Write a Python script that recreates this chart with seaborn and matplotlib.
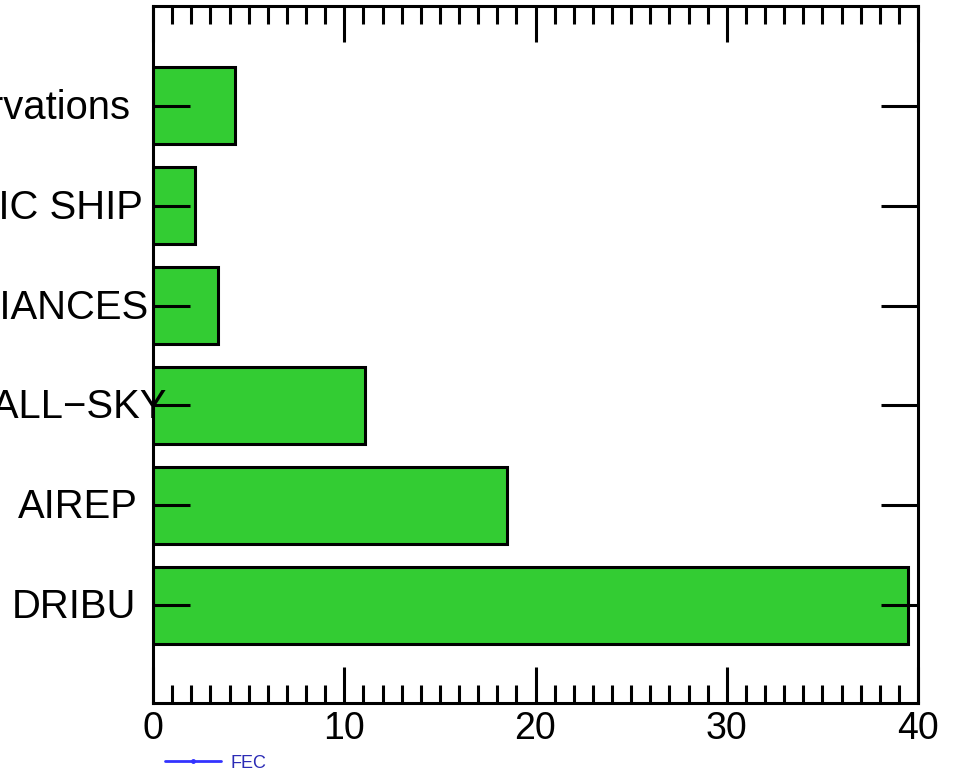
import matplotlib
matplotlib.use("Agg")
import matplotlib.pyplot as plt
import matplotlib.transforms as mtransforms
from matplotlib.ticker import FixedLocator, MultipleLocator
from matplotlib.lines import Line2D
import seaborn as sns
import pandas as pd

# Observation types, top to bottom, and their forecast error contribution (%)
categories = ["Other observations", "AUTOMATIC SHIP", "CLEAR-SKY RADIANCES",
              "MW ALL\u2212SKY", "AIREP", "DRIBU"]
fec_values = [4.3, 2.2, 3.4, 11.1, 18.5, 39.5]
x_ticks = [0, 10, 20, 30, 40]
series_name = "FEC"

# horizontal shift (pixels) of each category label's right edge from the y axis
label_shift_px = [-23, -10, -5, 13, -15, -17]

sns.set_theme(style="white")
plt.rcParams["font.family"] = ["Liberation Sans", "DejaVu Sans"]

W, H = 961, 774
fig = plt.figure(figsize=(W / 100, H / 100), dpi=100)
ax = fig.add_axes([153 / W, 1 - 703 / H, 765 / W, 697 / H])

df = pd.DataFrame({"category": categories, "value": fec_values})
sns.barplot(data=df, y="category", x="value", orient="h", color="#33CC33",
            saturation=1, edgecolor="black", linewidth=2.2, width=0.77, ax=ax)

ax.set_axisbelow(False)
ax.set_xlim(0, 40)
ax.set_ylim(len(categories) - 0.02, -1.0)
ax.set_xlabel("")
ax.set_ylabel("")

# spines
for sp in ax.spines.values():
    sp.set_visible(True)
    sp.set_color("black")
    sp.set_linewidth(2.2)
    sp.set_zorder(5)

# x ticks: majors every 10, minors every 1, inward on bottom and top
ax.xaxis.set_major_locator(FixedLocator(x_ticks))
ax.xaxis.set_minor_locator(MultipleLocator(1))
ax.tick_params(axis="x", which="major", direction="in", top=True, bottom=True,
               length=26, width=2.2, color="black", labelsize=27, pad=6,
               labelcolor="black")
ax.tick_params(axis="x", which="minor", direction="in", top=True, bottom=True,
               length=13, width=2.2, color="black")

# y ticks on both sides, labels drawn separately
ax.tick_params(axis="y", which="major", direction="in", left=True, right=True,
               length=26.5, width=2.2, color="black", labelleft=False)
ax.set_yticks(range(len(categories)))
ax.xaxis.set_zorder(6)
ax.yaxis.set_zorder(6)

for i, (name, dx) in enumerate(zip(categories, label_shift_px)):
    tr = mtransforms.offset_copy(ax.get_yaxis_transform(), fig=fig, x=dx, y=-2,
                                 units="dots")
    ax.text(0, i, name, transform=tr, ha="right", va="center",
            fontsize=28.8, color="black", clip_on=False, zorder=1)

# small legend below the axis
handle = Line2D([], [], color="#3333ff", lw=2, marker="o", markersize=2.5)
fig.legend([handle], [series_name], loc="center left",
           bbox_to_anchor=(165 / W, 1 - 763 / H), frameon=False, fontsize=13,
           labelcolor="#2b2bb5", handlelength=3.1, handletextpad=0.5,
           borderpad=0, borderaxespad=0)

fig.savefig("out.png", dpi=100)
